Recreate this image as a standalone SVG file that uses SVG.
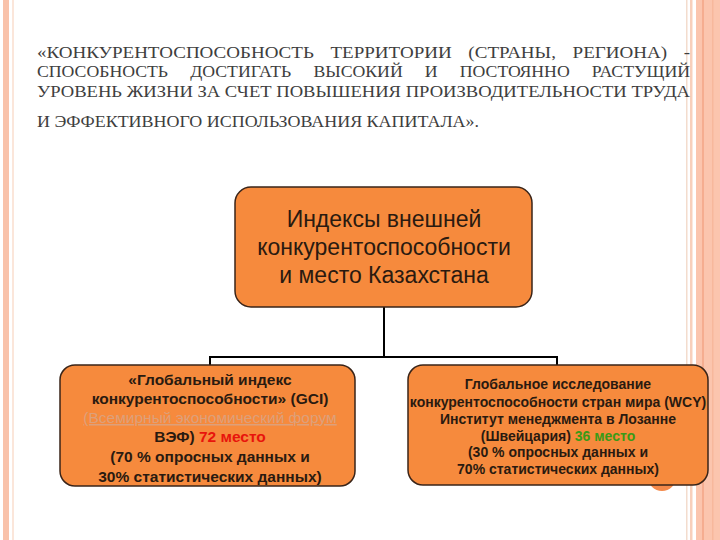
<svg xmlns="http://www.w3.org/2000/svg" width="720" height="540" viewBox="0 0 720 540">
<style>
.title{font-family:"Liberation Serif","Times New Roman",serif;font-size:16px;fill:#3e3e3e}
.box{fill:#f68a3d;stroke:#3a2418;stroke-width:1.5}
.main{font-family:"Liberation Sans",Arial,sans-serif;font-size:23px;fill:#2a1a10;text-anchor:middle}
.sub{font-family:"Liberation Sans",Arial,sans-serif;font-weight:bold;fill:#2a1a10;text-anchor:middle}
.conn{stroke:#000;stroke-width:2;fill:none}
</style>
<rect width="720" height="540" fill="#fff"/>
<g id="borders">
<rect x="3" y="0" width="6" height="540" fill="#f9c2aa"/>
<rect x="12" y="0" width="2" height="540" fill="#fbe6da"/>
<rect x="686" y="0" width="1.5" height="540" fill="#f3dccd"/>
<rect x="690" y="0" width="2.5" height="540" fill="#f8cfbb"/>
<rect x="696" y="0" width="24" height="540" fill="#fbc5ae"/>
<rect x="702" y="0" width="2" height="540" fill="#f5ad90"/>
<rect x="712" y="0" width="1.5" height="540" fill="#f7b89c"/>
</g>
<g id="title">
<text class="title" x="37" y="58" textLength="653" lengthAdjust="spacingAndGlyphs" word-spacing="10">«КОНКУРЕНТОСПОСОБНОСТЬ ТЕРРИТОРИИ (СТРАНЫ, РЕГИОНА) -</text>
<text class="title" x="37" y="77" textLength="653" lengthAdjust="spacingAndGlyphs" word-spacing="16">СПОСОБНОСТЬ ДОСТИГАТЬ ВЫСОКИЙ И ПОСТОЯННО РАСТУЩИЙ</text>
<text class="title" x="37" y="97" textLength="653" lengthAdjust="spacingAndGlyphs">УРОВЕНЬ ЖИЗНИ ЗА СЧЕТ ПОВЫШЕНИЯ ПРОИЗВОДИТЕЛЬНОСТИ ТРУДА</text>
<text class="title" x="37" y="127" textLength="442" lengthAdjust="spacingAndGlyphs">И ЭФФЕКТИВНОГО ИСПОЛЬЗОВАНИЯ КАПИТАЛА».</text>
</g>
<circle cx="662" cy="477" r="14" fill="#f4894a"/>
<g id="connectors">
<path class="conn" d="M384 307 V357 M210 357 H557 M210 356 V366 M557 356 V366"/>
</g>
<g id="top-node">
<rect class="box" x="235" y="187" width="297" height="120" rx="16"/>
<text class="main" x="384" y="227">Индексы внешней</text>
<text class="main" x="384" y="255">конкурентоспособности</text>
<text class="main" x="384" y="283">и место Казахстана</text>
</g>
<g id="gci-node">
<rect class="box" x="60" y="365" width="295" height="121" rx="15"/>
<g class="sub" font-size="15.5">
<text x="210" y="385">«Глобальный индекс</text>
<text x="210" y="404">конкурентоспособности» (GCI)</text>
<text x="210" y="423" fill="#dda07a" font-weight="normal" text-decoration="underline">(Всемирный экономический форум</text>
<text x="210" y="442">ВЭФ) <tspan fill="#e8140c">72 место</tspan></text>
<text x="210" y="462">(70 % опросных данных и</text>
<text x="210" y="482">30% статистических данных)</text>
</g>
</g>
<g id="wcy-node">
<rect class="box" x="408" y="365" width="300" height="120" rx="15"/>
<g class="sub" font-size="14">
<text x="558" y="389">Глобальное исследование</text>
<text x="558" y="407">конкурентоспособности стран мира (WCY)</text>
<text x="558" y="424">Институт менеджмента в Лозанне</text>
<text x="558" y="441">(Швейцария) <tspan fill="#3a9a16">36 место</tspan></text>
<text x="558" y="457">(30 % опросных данных и</text>
<text x="558" y="474">70% статистических данных)</text>
</g>
</g>
</svg>
